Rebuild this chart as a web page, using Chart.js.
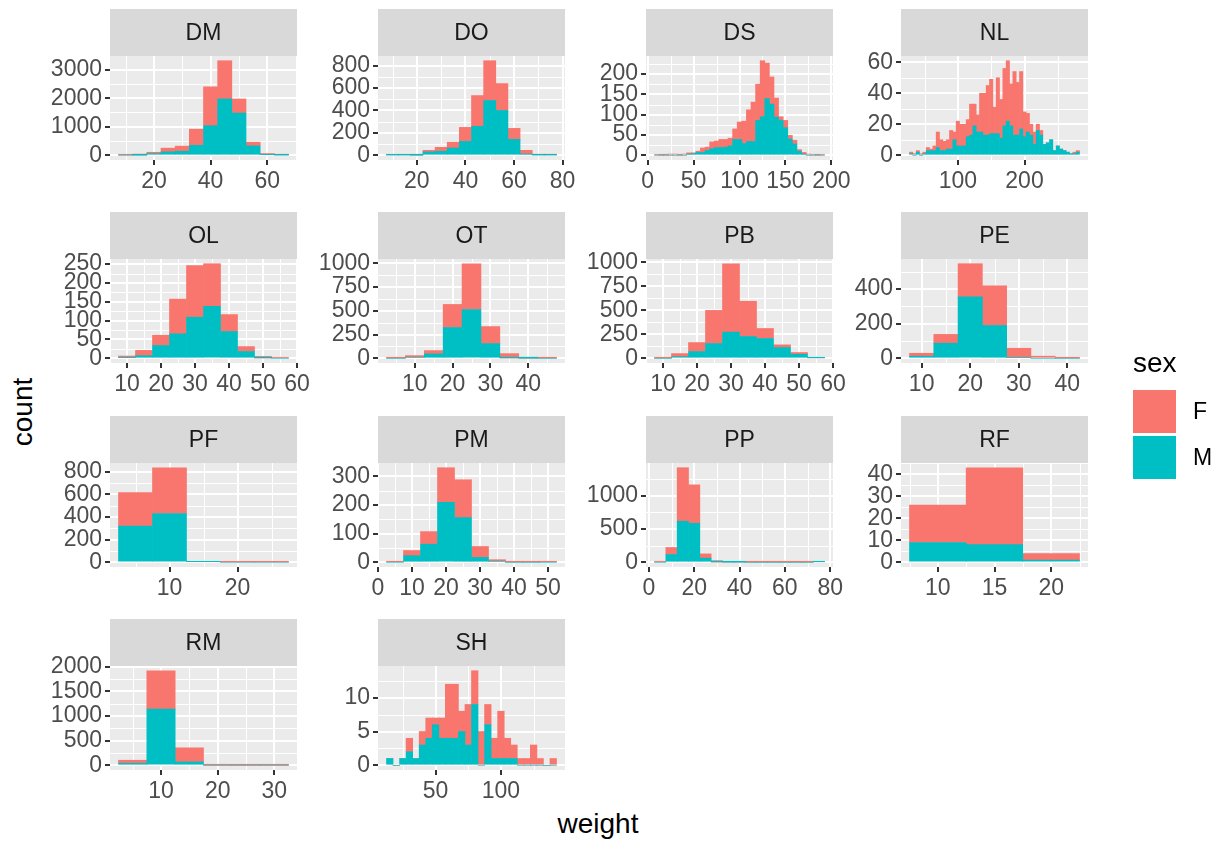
<!DOCTYPE html>
<html>
<head>
<meta charset="utf-8">
<script src="https://cdn.jsdelivr.net/npm/chart.js@4.4.1/dist/chart.umd.min.js"></script>
<style>
  html, body { margin: 0; padding: 0; background: #fff; }
  #wrap { position: relative; width: 1217px; height: 841px; overflow: hidden;
          font-family: "Liberation Sans", Arial, sans-serif; }
  canvas.panel { position: absolute; }
  .title { position: absolute; color: #000; font-size: 28px; line-height: 1; white-space: nowrap;
           transform: translate(-50%, -50%); }
  #ytitle { transform: translate(-50%, -50%) rotate(-90deg); }
  .key { position: absolute; width: 43px; height: 43px; }
  .klab { position: absolute; font-size: 23px; line-height: 1; color: #000; transform: translateY(-50%); }
</style>
</head>
<body>
<div id="wrap">
  <div id="ytitle" class="title" style="left:23px; top:412px;">count</div>
  <div id="xtitle" class="title" style="left:598px; top:824px;">weight</div>
</div>
<script>
// weight histograms (binwidth 5) per species, stacked by sex
const SPECIES = ['DM', 'DO', 'DS', 'NL', 'OL', 'OT', 'PB', 'PE', 'PF', 'PM', 'PP', 'RF', 'RM', 'SH'];
const SEX = ['F', 'M'];
const BIN_WIDTH = 5;

const DM_START = 10;
const DM_F = [20, 35, 45, 130, 180, 565, 1365, 1340, 495, 130, 35, 25];
const DM_M = [0, 5, 60, 120, 140, 350, 1035, 1975, 1480, 330, 25, 10];
const DM_XTICKS = [20, 40, 60];
const DM_YTICKS = [0, 1000, 2000, 3000];

const DO_START = 10;
const DO_F = [4, 4, 8, 14, 35, 51, 125, 275, 355, 240, 98, 32, 6, 6];
const DO_M = [3, 3, 1, 30, 36, 65, 124, 258, 489, 400, 142, 12, 3, 3];
const DO_XTICKS = [20, 40, 60, 80];
const DO_YTICKS = [0, 200, 400, 600, 800];

const DS_START = 10;
const DS_F = [2, 1, 1, 3, 3, 1, 3, 3, 2, 3, 11, 8, 17, 16, 20, 19, 19, 26, 43, 55, 78, 97, 89, 138, 87, 67, 47, 9, 18, 9, 9, 4, 4, 3, 2, 1, 2];
const DS_M = [0, 0, 0, 0, 0, 0, 0, 3, 4, 7, 7, 12, 16, 19, 19, 20, 23, 39, 39, 29, 34, 34, 86, 95, 140, 126, 94, 86, 68, 40, 28, 10, 3, 0, 0, 0, 0];
const DS_XTICKS = [0, 50, 100, 150, 200];
const DS_YTICKS = [0, 50, 100, 150, 200];

const NL_START = 30;
const NL_F = [1, 1, 1, 1, 1, 2, 1, 3, 10, 7, 6, 6, 12, 5, 16, 14, 14, 11, 20, 14, 11, 25, 27, 32, 35, 17, 36, 25, 37, 39, 27, 41, 34, 37, 16, 12, 7, 8, 4, 3, 0, 0, 0, 0, 0, 0, 0, 0, 0, 1, 1];
const NL_M = [1, 0, 2, 0, 1, 3, 3, 3, 5, 3, 3, 4, 4, 10, 6, 6, 6, 12, 13, 19, 15, 15, 13, 13, 14, 14, 14, 11, 19, 22, 19, 13, 13, 17, 12, 15, 13, 7, 16, 13, 7, 8, 10, 3, 6, 4, 3, 2, 1, 1, 2];
const NL_XTICKS = [100, 200];
const NL_YTICKS = [0, 20, 40, 60];

const OL_START = 10;
const OL_F = [4, 14, 27, 92, 137, 113, 45, 13, 4, 2];
const OL_M = [2, 7, 34, 65, 109, 138, 71, 18, 1, 0];
const OL_XTICKS = [10, 20, 30, 40, 50, 60];
const OL_YTICKS = [0, 50, 100, 150, 200, 250];

const OT_START = 5;
const OT_F = [3, 17, 35, 243, 482, 179, 45, 10, 3];
const OT_M = [0, 11, 46, 324, 514, 155, 4, 1, 0];
const OT_XTICKS = [10, 20, 30, 40];
const OT_YTICKS = [0, 250, 500, 750, 1000];

const PB_START = 10;
const PB_F = [3, 32, 94, 346, 714, 368, 105, 28, 18, 5];
const PB_M = [0, 17, 70, 154, 273, 227, 206, 112, 42, 5];
const PB_XTICKS = [10, 20, 30, 40, 50, 60];
const PB_YTICKS = [0, 250, 500, 750, 1000];

const PE_START = 10;
const PE_F = [17, 51, 192, 229, 53, 12, 2];
const PE_M = [12, 87, 355, 190, 5, 0, 0];
const PE_XTICKS = [10, 20, 30, 40];
const PE_YTICKS = [0, 200, 400];

const PF_START = 5;
const PF_F = [297, 404, 1, 4, 3];
const PF_M = [319, 431, 6, 0, 0];
const PF_XTICKS = [10, 20];
const PF_YTICKS = [0, 200, 400, 600, 800];

const PM_START = 5;
const PM_F = [2, 18, 44, 121, 132, 38, 5, 1, 1, 2];
const PM_M = [0, 23, 63, 209, 156, 17, 4, 0, 0, 0];
const PM_XTICKS = [0, 10, 20, 30, 40, 50];
const PM_YTICKS = [0, 100, 200, 300];

const PP_START = 5;
const PP_F = [10, 106, 803, 576, 65, 20, 8, 8, 3, 3, 3, 3, 3, 3, 2];
const PP_M = [0, 116, 616, 586, 61, 5, 2, 2, 0, 0, 0, 0, 0, 0, 8];
const PP_XTICKS = [0, 20, 40, 60, 80];
const PP_YTICKS = [0, 500, 1000];

const RF_START = 10;
const RF_F = [17, 35, 3];
const RF_M = [9, 8, 1];
const RF_XTICKS = [10, 15, 20];
const RF_YTICKS = [0, 10, 20, 30, 40];

const RM_START = 5;
const RM_F = [61, 776, 286, 4, 3, 4];
const RM_M = [41, 1142, 68, 0, 0, 0];
const RM_XTICKS = [10, 20, 30];
const RM_YTICKS = [0, 500, 1000, 1500, 2000];

const SH_START = 15;
const SH_F = [0, 0, 0, 2, 0, 2, 3, 1, 3, 8, 8, 3, 6, 5, 5, 3, 3, 7, 3, 2, 1, 1, 3, 1, 0, 1];
const SH_M = [1, 0, 1, 2, 1, 3, 4, 6, 4, 4, 4, 5, 3, 9, 0, 6, 1, 1, 1, 1, 0, 0, 0, 0, 0, 0];
const SH_XTICKS = [50, 100];
const SH_YTICKS = [0, 5, 10];

const PANELS = [
  { id: 'DM', start: DM_START, f: DM_F, m: DM_M, xt: DM_XTICKS, yt: DM_YTICKS },
  { id: 'DO', start: DO_START, f: DO_F, m: DO_M, xt: DO_XTICKS, yt: DO_YTICKS },
  { id: 'DS', start: DS_START, f: DS_F, m: DS_M, xt: DS_XTICKS, yt: DS_YTICKS },
  { id: 'NL', start: NL_START, f: NL_F, m: NL_M, xt: NL_XTICKS, yt: NL_YTICKS },
  { id: 'OL', start: OL_START, f: OL_F, m: OL_M, xt: OL_XTICKS, yt: OL_YTICKS },
  { id: 'OT', start: OT_START, f: OT_F, m: OT_M, xt: OT_XTICKS, yt: OT_YTICKS },
  { id: 'PB', start: PB_START, f: PB_F, m: PB_M, xt: PB_XTICKS, yt: PB_YTICKS },
  { id: 'PE', start: PE_START, f: PE_F, m: PE_M, xt: PE_XTICKS, yt: PE_YTICKS },
  { id: 'PF', start: PF_START, f: PF_F, m: PF_M, xt: PF_XTICKS, yt: PF_YTICKS },
  { id: 'PM', start: PM_START, f: PM_F, m: PM_M, xt: PM_XTICKS, yt: PM_YTICKS },
  { id: 'PP', start: PP_START, f: PP_F, m: PP_M, xt: PP_XTICKS, yt: PP_YTICKS },
  { id: 'RF', start: RF_START, f: RF_F, m: RF_M, xt: RF_XTICKS, yt: RF_YTICKS },
  { id: 'RM', start: RM_START, f: RM_F, m: RM_M, xt: RM_XTICKS, yt: RM_YTICKS },
  { id: 'SH', start: SH_START, f: SH_F, m: SH_M, xt: SH_XTICKS, yt: SH_YTICKS },
];

const COLORS = { F: '#F8766D', M: '#00BFC4' };
const FONT = '"Liberation Sans", Arial, sans-serif';
const TEXT_PX = 23;

// facet geometry (px)
const COL_LEFT = [110, 378, 646, 901];
const ROW_TOP = [56, 259, 463, 666];
const PW = 187, PH = 104, STRIP_H = 47;
const AX_L = 75, AX_B = 42, PAD_R = 35;

Chart.defaults.font.family = FONT;

function minorBreaks(scale) {
  const t = scale.ticks.map(k => k.value);
  const step = t[1] - t[0];
  const out = [];
  for (let v = t[0] - step / 2; v >= scale.min; v -= step) out.push(v);
  for (let v = t[0] + step / 2; v <= scale.max; v += step) out.push(v);
  return out;
}

// grey panel, minor grid and facet strip
const facetDecor = {
  id: 'facetDecor',
  beforeDraw(chart, args, opts) {
    const { ctx, chartArea: a, scales: { x, y } } = chart;
    ctx.save();
    ctx.fillStyle = '#EBEBEB';
    ctx.fillRect(a.left, a.top, a.right - a.left, a.bottom - a.top);

    ctx.strokeStyle = '#FFFFFF';
    ctx.lineWidth = 1;
    ctx.beginPath();
    minorBreaks(x).forEach(v => {
      const px = Math.round(x.getPixelForValue(v)) + 0.5;
      ctx.moveTo(px, a.top); ctx.lineTo(px, a.bottom);
    });
    minorBreaks(y).forEach(v => {
      const py = Math.round(y.getPixelForValue(v)) + 0.5;
      ctx.moveTo(a.left, py); ctx.lineTo(a.right, py);
    });
    ctx.stroke();

    ctx.fillStyle = '#D9D9D9';
    ctx.fillRect(a.left, a.top - STRIP_H, a.right - a.left, STRIP_H);
    ctx.fillStyle = '#1A1A1A';
    ctx.font = TEXT_PX + 'px ' + FONT;
    ctx.textAlign = 'center';
    ctx.textBaseline = 'middle';
    ctx.fillText(opts.label, (a.left + a.right) / 2, a.top - STRIP_H / 2 + 1);
    ctx.restore();
  }
};

function axisOpts(ticks, lo, hi, fit) {
  return {
    type: 'linear', stacked: true, offset: false, min: lo, max: hi,
    afterBuildTicks: s => { s.ticks = ticks.map(v => ({ value: v })); },
    afterFit: fit,
    border: { display: false },
    grid: { color: '#FFFFFF', lineWidth: 2, offset: false, drawTicks: true,
            tickLength: 5, tickColor: '#333333', tickWidth: 2 },
    ticks: { color: '#4D4D4D', font: { size: TEXT_PX, family: FONT }, padding: 3,
             autoSkip: false, maxRotation: 0, minRotation: 0,
             callback: v => String(v) }
  };
}

const wrap = document.getElementById('wrap');

PANELS.forEach((p, i) => {
  const col = i % 4, row = Math.floor(i / 4);
  const cv = document.createElement('canvas');
  cv.className = 'panel';
  cv.width = AX_L + PW + PAD_R;
  cv.height = STRIP_H + PH + AX_B;
  cv.style.left = (COL_LEFT[col] - AX_L) + 'px';
  cv.style.top = (ROW_TOP[row] - STRIP_H) + 'px';
  wrap.appendChild(cv);

  const xLo = p.start - BIN_WIDTH / 2;
  const xHi = p.start + (p.f.length - 0.5) * BIN_WIDTH;
  const xPad = (xHi - xLo) * 0.05;
  const yTop = Math.max(...p.f.map((v, k) => v + p.m[k]));
  const yPad = yTop * 0.05;

  const pts = arr => arr.map((v, k) => ({ x: p.start + k * BIN_WIDTH, y: v }));

  new Chart(cv, {
    type: 'bar',
    data: {
      datasets: [
        { label: 'M', data: pts(p.m), backgroundColor: COLORS.M, borderWidth: 0,
          barPercentage: 1, categoryPercentage: 1 },
        { label: 'F', data: pts(p.f), backgroundColor: COLORS.F, borderWidth: 0,
          barPercentage: 1, categoryPercentage: 1 }
      ]
    },
    options: {
      responsive: false, animation: false, devicePixelRatio: 1,
      layout: { padding: { left: 0, top: STRIP_H, right: PAD_R, bottom: 0 } },
      plugins: { legend: { display: false }, tooltip: { enabled: false },
                 facetDecor: { label: p.id } },
      scales: {
        x: axisOpts(p.xt, xLo - xPad, xHi + xPad, s => { s.height = AX_B; }),
        y: axisOpts(p.yt, -yPad, yTop + yPad, s => { s.width = AX_L; })
      }
    },
    plugins: [facetDecor]
  });
});

// legend (sex)
const lt = document.createElement('div');
lt.className = 'title';
lt.textContent = 'sex';
lt.style.cssText = 'left:1133px; top:363px; transform:translateY(-50%);';
wrap.appendChild(lt);
SEX.forEach((s, k) => {
  const key = document.createElement('div');
  key.className = 'key';
  key.style.left = '1133px';
  key.style.top = (390 + k * 46) + 'px';
  key.style.background = COLORS[s];
  wrap.appendChild(key);
  const lab = document.createElement('div');
  lab.className = 'klab';
  lab.textContent = s;
  lab.style.left = '1193px';
  lab.style.top = (411 + k * 46) + 'px';
  wrap.appendChild(lab);
});
</script>
</body>
</html>
